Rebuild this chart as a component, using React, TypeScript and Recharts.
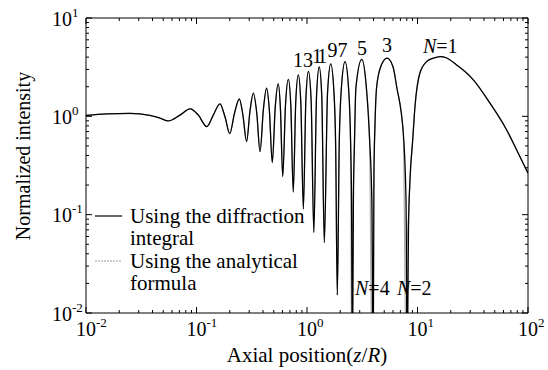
import React from "react";
import { LineChart, Line, XAxis, YAxis, Legend, ReferenceDot } from "recharts";

const SERIF = "Liberation Serif, DejaVu Serif, serif";

/* ── data ───────────────────────────────────────────────── */

// axial position z/R
const zPositions = [
  0.01, 0.0154, 0.025, 0.0379, 0.0468, 0.0556, 0.0709, 0.0875, 0.1038, 0.124,
  0.142, 0.163, 0.181, 0.2, 0.221, 0.244, 0.263, 0.284, 0.305, 0.327, 0.351,
  0.376, 0.403, 0.431, 0.457, 0.485, 0.516, 0.549, 0.575, 0.603, 0.639, 0.678,
  0.714, 0.751, 0.791, 0.834, 0.879, 0.927, 0.977, 1.03, 1.09, 1.153, 1.22,
  1.29, 1.36, 1.435, 1.534, 1.64, 1.756, 1.817, 1.88, 1.958, 2.038, 2.21, 2.388,
  2.482, 2.53, 2.58, 2.63, 2.69, 2.77, 3.13, 3.44, 3.68, 3.86, 3.97, 4.04, 4.12,
  4.27, 4.7, 5.3, 6.0, 6.48, 7.44, 7.87, 8.07, 8.3, 8.55, 9.05, 9.49, 10.5,
  12.1, 13.9, 16.0, 18.4, 22.6, 26.9, 32.0, 45.3, 64.1, 79.0, 100,
];

// normalized intensity, diffraction integral (black)
const intensityDiffraction = [
  1.02, 1.06, 1.07, 1.02, 0.957, 0.898, 1.03, 1.19, 1.03, 0.786,
  1.03, 1.34, 0.99, 0.667, 1.08, 1.5, 1.03, 0.553, 1.14, 1.72, 1.08,
  0.437, 1.18, 1.93, 1.13, 0.338, 1.24, 2.14, 1.19, 0.244, 1.31, 2.38,
  1.28, 0.17, 1.4, 2.64, 1.38, 0.114, 1.49, 2.86, 1.46, 0.066, 1.62,
  3.18, 1.62, 0.052, 1.73, 3.41, 1.71, 0.5, 0.0152, 0.53, 1.81, 3.6, 1.8,
  0.53, 0.137, 0.003, 0.14, 0.55, 1.95, 3.79, 2.0, 0.6, 0.14, 0.003, 0.3, 0.8,
  2.0, 3.3, 3.9, 3.2, 2.0, 0.67, 0.14, 0.003, 0.08, 0.225, 0.575, 1.26, 2.74,
  3.6, 3.9, 4.05, 3.92, 3.33, 2.85, 2.35, 1.36, 0.727, 0.455, 0.264,
];

// normalized intensity, analytical formula (grey)
const intensityAnalytical = [
  1.02, 1.06, 1.07, 1.02, 0.957, 0.898, 1.03, 1.19, 1.03, 0.786,
  1.03, 1.34, 0.99, 0.667, 1.08, 1.5, 1.03, 0.553, 1.14, 1.72, 1.08,
  0.437, 1.18, 1.93, 1.13, 0.338, 1.24, 2.14, 1.19, 0.244, 1.31, 2.38,
  1.28, 0.17, 1.4, 2.64, 1.38, 0.114, 1.49, 2.86, 1.46, 0.066, 1.62,
  3.18, 1.62, 0.052, 1.73, 3.41, 1.71, 0.5, 0.0152, 0.53, 1.81, 3.6, 1.8,
  0.53, 0.004, 0.06, 0.2, 0.55, 1.95, 3.79, 2.0, 0.6, 0.004, 0.12, 0.3, 0.8,
  2.0, 3.3, 3.9, 3.2, 2.0, 0.67, 0.004, 0.05, 0.1, 0.225, 0.575, 1.26, 2.74,
  3.6, 3.9, 4.05, 3.92, 3.33, 2.85, 2.35, 1.36, 0.727, 0.455, 0.264,
];

// axis ticks
const xDecades = [0.01, 0.1, 1, 10, 100];
const xExponents = ["-2", "-1", "0", "1", "2"];
const yDecades = [0.01, 0.1, 1, 10];
const yExponents = ["-2", "-1", "0", "1"];
const minorSteps = [2, 3, 4, 5, 6, 7, 8, 9];

// annotations (Fresnel zone numbers)
const peakLabels = ["13", "11", "97", "5", "3"];
const peakLabelZ = [0.747, 1.11, 1.53, 2.83, 4.77];
const peakLabelIntensity = [3.18, 3.49, 4.02, 4.21, 4.52];
const orderLabels = ["1", "4", "2"];
const orderLabelZ = [11.2, 2.72, 6.52];
const orderLabelIntensity = [4.42, 0.0152, 0.0152];

/* ── derived tables ─────────────────────────────────────── */

const diffractionData = zPositions.map((z, i) => ({ z, intensity: intensityDiffraction[i] }));
const analyticalData = zPositions.map((z, i) => ({ z, intensity: intensityAnalytical[i] }));

const withMinors = (decades: number[]) =>
  [
    ...decades,
    ...decades.slice(0, -1).flatMap((d) => minorSteps.map((k) => +(d * k).toPrecision(3))),
  ].sort((a, b) => a - b);

const xTicks = withMinors(xDecades);
const yTicks = withMinors(yDecades);

const decadeIndex = (list: number[], v: number) =>
  list.findIndex((d) => Math.abs(d - v) < d * 1e-6);

const txt = (size: number) => ({ fontSize: size, fill: "#000", style: { fontFamily: SERIF } });

/* ── tick renderers ─────────────────────────────────────── */

function BottomTick({ x, y, payload }: any) {
  const i = decadeIndex(xDecades, payload.value);
  return (
    <g>
      <line x1={x} x2={x} y1={y} y2={y - (i >= 0 ? 6 : 3)} stroke="#000" />
      {i >= 0 && (
        <text x={x - 10} y={y + 23} {...txt(20)}>
          10
          <tspan dy={-9} fontSize={13}>
            {xExponents[i]}
          </tspan>
        </text>
      )}
    </g>
  );
}

function TopTick({ x, y, payload }: any) {
  const i = decadeIndex(xDecades, payload.value);
  return <line x1={x} x2={x} y1={y} y2={y + (i >= 0 ? 6 : 3)} stroke="#000" />;
}

function LeftTick({ x, y, payload }: any) {
  const i = decadeIndex(yDecades, payload.value);
  return (
    <g>
      <line x1={x} x2={x + (i >= 0 ? 6 : 3)} y1={y} y2={y} stroke="#000" />
      {i >= 0 && (
        <text x={x - 34} y={y + 7.5} {...txt(20)}>
          10
          <tspan dy={-9} fontSize={13}>
            {yExponents[i]}
          </tspan>
        </text>
      )}
    </g>
  );
}

function RightTick({ x, y, payload }: any) {
  const i = decadeIndex(yDecades, payload.value);
  return <line x1={x} x2={x - (i >= 0 ? 6 : 3)} y1={y} y2={y} stroke="#000" />;
}

/* ── titles / legend ────────────────────────────────────── */

function XTitle({ viewBox }: any) {
  return (
    <text x={viewBox.x + viewBox.width / 2} y={viewBox.y + 49} textAnchor="middle" {...txt(21)}>
      Axial position(<tspan fontStyle="italic">z</tspan>/<tspan fontStyle="italic">R</tspan>)
    </text>
  );
}

function YTitle({ viewBox }: any) {
  const cx = viewBox.x + 30;
  const cy = viewBox.y + 138;
  return (
    <text
      x={cx}
      y={cy}
      transform={`rotate(-90, ${cx}, ${cy})`}
      textAnchor="middle"
      {...txt(20)}
    >
      Normalized intensity
    </text>
  );
}

function LegendBox() {
  const t = txt(21);
  return (
    <svg width={260} height={100} style={{ overflow: "visible", display: "block" }}>
      <line x1={7} x2={34} y1={18} y2={18} stroke="#000" strokeWidth={1.2} />
      <text x={42} y={25} {...t}>Using the diffraction</text>
      <text x={42} y={47} {...t}>integral</text>
      <line x1={7} x2={34} y1={63} y2={63} stroke="#999" strokeWidth={1} strokeDasharray="2 1" />
      <text x={42} y={70} {...t}>Using the analytical</text>
      <text x={42} y={92} {...t}>formula</text>
    </svg>
  );
}

/* ── chart ──────────────────────────────────────────────── */

export default function App() {
  return (
    <div style={{ position: "absolute", left: 0, top: 0, width: 548, height: 370, background: "#fff" }}>
      <LineChart width={548} height={370} margin={{ top: 0, right: 0, bottom: 0, left: 0 }}>
        <XAxis
          dataKey="z"
          type="number"
          scale="log"
          domain={[0.01, 100]}
          ticks={xTicks}
          interval={0}
          allowDataOverflow
          height={57}
          tickSize={0}
          tickMargin={0}
          tickLine={false}
          tick={BottomTick}
          axisLine={{ stroke: "#000" }}
          label={<XTitle />}
        />
        <XAxis
          xAxisId="top"
          orientation="top"
          dataKey="z"
          type="number"
          scale="log"
          domain={[0.01, 100]}
          ticks={xTicks}
          interval={0}
          allowDataOverflow
          height={18}
          tickSize={0}
          tickMargin={0}
          tickLine={false}
          tick={TopTick}
          axisLine={{ stroke: "#000" }}
        />
        <YAxis
          type="number"
          scale="log"
          domain={[0.01, 10]}
          ticks={yTicks}
          interval={0}
          allowDataOverflow
          width={86}
          tickSize={0}
          tickMargin={0}
          tickLine={false}
          tick={LeftTick}
          axisLine={{ stroke: "#000" }}
          label={<YTitle />}
        />
        <YAxis
          yAxisId="right"
          orientation="right"
          type="number"
          scale="log"
          domain={[0.01, 10]}
          ticks={yTicks}
          interval={0}
          allowDataOverflow
          width={20}
          tickSize={0}
          tickMargin={0}
          tickLine={false}
          tick={RightTick}
          axisLine={{ stroke: "#000" }}
        />
        <Legend
          content={<LegendBox />}
          verticalAlign="middle"
          wrapperStyle={{ left: 88, top: 198, width: 260, height: 100 }}
        />
        <Line
          data={analyticalData}
          dataKey="intensity"
          name="Using the analytical formula"
          type="monotone"
          stroke="#aaa"
          strokeWidth={1.2}
          dot={false}
          isAnimationActive={false}
        />
        <Line
          data={diffractionData}
          dataKey="intensity"
          name="Using the diffraction integral"
          type="monotone"
          stroke="#000"
          strokeWidth={1.3}
          dot={false}
          isAnimationActive={false}
        />
        {peakLabels.map((s, i) => (
          <ReferenceDot
            key={s}
            x={peakLabelZ[i]}
            y={peakLabelIntensity[i]}
            r={0}
            shape={(p: any) => (
              <text x={p.cx} y={p.cy} letterSpacing={s === "11" ? -4 : 0} {...txt(20)}>
                {s}
              </text>
            )}
          />
        ))}
        {orderLabels.map((s, i) => (
          <ReferenceDot
            key={"N" + s}
            x={orderLabelZ[i]}
            y={orderLabelIntensity[i]}
            r={0}
            shape={(p: any) => (
              <text x={p.cx} y={p.cy} {...txt(20)}>
                <tspan fontStyle="italic">N</tspan>={s}
              </text>
            )}
          />
        ))}
      </LineChart>
    </div>
  );
}
